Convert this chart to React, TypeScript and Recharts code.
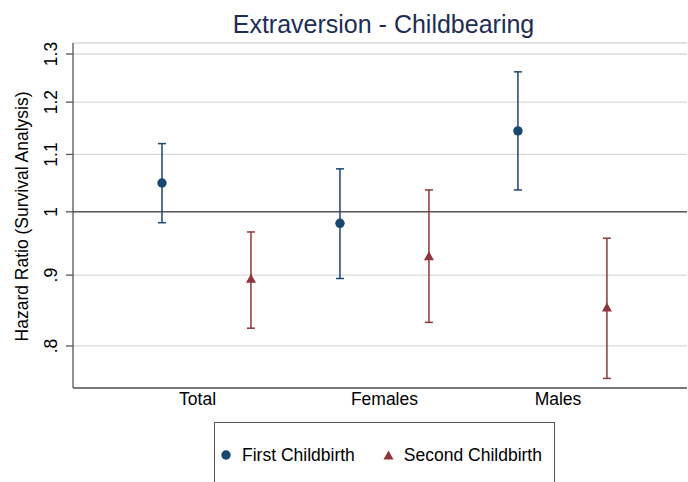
import {
  ScatterChart, Scatter, XAxis, YAxis, CartesianGrid,
  ReferenceLine, ErrorBar, Legend,
} from 'recharts';

// hazard ratios with 95% CI
const groups = ['Total', 'Females', 'Males'];
const firstHR = [1.049, 0.981, 1.144];
const firstLo = [0.982, 0.895, 1.037];
const firstHi = [1.12, 1.074, 1.262];
const secondHR = [0.894, 0.928, 0.852];
const secondLo = [0.824, 0.832, 0.758];
const secondHi = [0.967, 1.037, 0.957];

const yTicks = [0.8, 0.9, 1, 1.1, 1.2, 1.3];
const yTickLabels = ['.8', '.9', '1', '1.1', '1.2', '1.3'];
const xLabelPos = [1.4, 3.5, 5.45];

const FONT = '"Liberation Sans", Arial, sans-serif';
const BLUE = '#1a476f';
const RED = '#90353b';

const build = (hr: number[], lo: number[], hi: number[], offset: number) =>
  hr.map((v, i) => ({
    x: i * 2 + offset,
    y: v,
    err: [v - lo[i], hi[i] - v],
    group: groups[i],
  }));

const firstData = build(firstHR, firstLo, firstHi, 1);
const secondData = build(secondHR, secondLo, secondHi, 2);

const YTick = ({ x, y, payload }: any) => {
  const idx = yTicks.findIndex((t) => Math.abs(t - payload.value) < 1e-6);
  return (
    <text
      x={x}
      y={y}
      transform={`rotate(-90, ${x}, ${y})`}
      textAnchor="middle"
      fontSize={17.5}
      fontFamily={FONT}
      fill="#000"
    >
      {idx >= 0 ? yTickLabels[idx] : payload.value}
    </text>
  );
};

const XTick = ({ x, y, payload }: any) => {
  const idx = xLabelPos.findIndex((t) => Math.abs(t - payload.value) < 1e-6);
  return (
    <text x={x} y={y + 17} textAnchor="middle" fontSize={17.5} fontFamily={FONT} fill="#000">
      {idx >= 0 ? groups[idx] : ''}
    </text>
  );
};

const Dot = (props: any) => <circle cx={props.cx} cy={props.cy} r={4.7} fill={BLUE} />;

const Tri = (props: any) => {
  const { cx, cy } = props;
  return (
    <path
      d={`M${cx},${cy - 5.5} L${cx + 5},${cy + 3.5} L${cx - 5},${cy + 3.5} Z`}
      fill={RED}
    />
  );
};

const renderLegend = () => (
  <div
    style={{
      boxSizing: 'border-box',
      width: 341,
      height: 80,
      border: '1px solid #555',
      background: '#fff',
      fontFamily: FONT,
      fontSize: 17.5,
      color: '#000',
      position: 'relative',
    }}
  >
    <div style={{ position: 'absolute', top: 22, left: 6, height: 20, display: 'flex', alignItems: 'center', whiteSpace: 'nowrap' }}>
      <svg width={10} height={10} style={{ display: 'block' }}>
        <circle cx={5} cy={5} r={4.7} fill={BLUE} />
      </svg>
      <span style={{ marginLeft: 11, lineHeight: '20px' }}>First Childbirth</span>
      <svg width={11} height={10} style={{ display: 'block', marginLeft: 28 }}>
        <path d="M5.5,0.5 L10.5,9.5 L0.5,9.5 Z" fill={RED} />
      </svg>
      <span style={{ marginLeft: 10, lineHeight: '20px' }}>Second Childbirth</span>
    </div>
  </div>
);

export default function App() {
  return (
    <div style={{ position: 'absolute', left: 0, top: 0, width: 688, height: 482, overflow: 'hidden', background: '#fff' }}>
      <div
        style={{
          position: 'absolute',
          left: 383.5,
          top: 11.5,
          transform: 'translateX(-50%)',
          whiteSpace: 'nowrap',
          fontFamily: FONT,
          fontSize: 25,
          lineHeight: '25px',
          color: '#1e2d53',
        }}
      >
        Extraversion - Childbearing
      </div>
      <ScatterChart width={688} height={482} margin={{ top: 43, right: 1, bottom: 64, left: 0 }}>
        <CartesianGrid vertical={false} stroke="#d9d9d9" strokeWidth={1.3} />
        <XAxis
          type="number"
          dataKey="x"
          domain={[0, 6.9]}
          ticks={xLabelPos}
          tick={<XTick />}
          tickLine={false}
          tickSize={0}
          tickMargin={0}
          height={30}
          axisLine={{ stroke: '#555', strokeWidth: 1.3 }}
          allowDataOverflow
        />
        <YAxis
          type="number"
          dataKey="y"
          scale="log"
          domain={[0.746, 1.324]}
          ticks={yTicks}
          tick={<YTick />}
          tickSize={7}
          tickMargin={9}
          width={73}
          allowDataOverflow
          axisLine={{ stroke: '#555', strokeWidth: 1.3 }}
          tickLine={{ stroke: '#555', strokeWidth: 1.3 }}
          label={() => (
            <text
              x={27.5}
              y={216.5}
              transform="rotate(-90, 27.5, 216.5)"
              textAnchor="middle"
              fontSize={17.5}
              fontFamily={FONT}
              fill="#000"
            >
              Hazard Ratio (Survival Analysis)
            </text>
          )}
        />
        <ReferenceLine y={1} stroke="#5a5a5a" strokeWidth={1.5} />
        <Legend
          layout="horizontal"
          verticalAlign="middle"
          align="center"
          content={renderLegend}
          wrapperStyle={{ left: 214, top: 422, width: 341, height: 80 }}
        />
        <Scatter name="First Childbirth" data={firstData} dataKey="y" shape={Dot} isAnimationActive={false}>
          <ErrorBar dataKey="err" direction="y" width={4} stroke={BLUE} strokeWidth={1.5} />
        </Scatter>
        <Scatter name="Second Childbirth" data={secondData} dataKey="y" shape={Tri} isAnimationActive={false}>
          <ErrorBar dataKey="err" direction="y" width={4} stroke={RED} strokeWidth={1.5} />
        </Scatter>
      </ScatterChart>
    </div>
  );
}
